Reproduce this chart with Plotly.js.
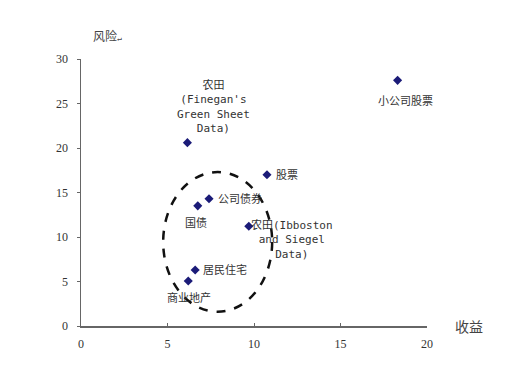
<!DOCTYPE html>
<html><head><meta charset="utf-8">
<script src="https://cdn.plot.ly/plotly-3.0.1.min.js"></script>
<style>html,body{margin:0;padding:0;background:#fff;}#chart{width:528px;height:390px;}</style>
</head><body><div id="chart"></div>
<script>
const names = ["农田<br>(Finegan's<br>Green Sheet<br>Data)", "小公司股票", "股票", "公司债券", "国债", "农田(Ibboston<br>and Siegel<br>Data)", "居民住宅", "商业地产"];
const returns = [6.15, 18.3, 10.75, 7.4, 6.75, 9.7, 6.6, 6.2];
const risks = [20.6, 27.6, 17.0, 14.3, 13.5, 11.2, 6.3, 5.05];
const xTicks = [0, 5, 10, 15, 20];
const yTicks = [0, 5, 10, 15, 20, 25, 30];
const ellipseX = [4.75, 11.05];
const ellipseY = [1.6, 17.3];

// label placement per point: [xanchor, yanchor, xshift, yshift, align]
const place = [
  ['center','bottom',26,6,'center'],
  ['center','middle',8,-21,'center'],
  ['left','middle',7,-1,'left'],
  ['left','middle',7,0,'left'],
  ['center','middle',-2,-17,'center'],
  ['center','top',43,10,'center'],
  ['left','middle',6,0,'left'],
  ['center','middle',1,-17,'center']
];

const cjk = '"Noto Sans CJK SC", "DejaVu Sans Mono", monospace';
const annotations = names.map((n,i)=>({
  x: returns[i], y: risks[i], xref:'x', yref:'y', text:n, showarrow:false,
  xanchor:place[i][0], yanchor:place[i][1], xshift:place[i][2], yshift:place[i][3],
  align:place[i][4],
  font:{family:'"DejaVu Sans Mono", "Noto Sans CJK SC", monospace', size:11, color:'#333'}
}));
annotations.push({xref:'paper', yref:'paper', x:0.028, y:1.087, xanchor:'left', yanchor:'middle', text:'风险<span style="font-size:8px">↵</span>', showarrow:false, font:{family:cjk, size:12, color:'#444'}});
annotations.push({xref:'paper', yref:'paper', x:1.075, y:0.0, xanchor:'left', yanchor:'middle', text:'收益', showarrow:false, font:{family:cjk, size:14, color:'#444'}});

const trace = {
  x: returns, y: risks, mode:'markers', type:'scatter',
  marker:{symbol:'diamond', size:7, color:'#1b1b78'}, hoverinfo:'skip'
};

const axisCommon = {
  showgrid:false, zeroline:false, showline:true, linecolor:'#666', linewidth:1.5,
  ticks:'outside', ticklen:3, tickwidth:1, tickcolor:'#666',
  tickfont:{family:'"Liberation Serif", serif', size:12, color:'#333'}
};

const layout = {
  width:528, height:390,
  margin:{l:81, r:101, t:59, b:64},
  paper_bgcolor:'#fff', plot_bgcolor:'#fff',
  showlegend:false,
  xaxis:Object.assign({}, axisCommon, {range:[0,20], tickvals:xTicks, ticks:'inside', ticklabelstandoff:6}),
  yaxis:Object.assign({}, axisCommon, {range:[0,30], tickvals:yTicks, ticklabelstandoff:6}),
  shapes:[{type:'circle', xref:'x', yref:'y', x0:ellipseX[0], x1:ellipseX[1], y0:ellipseY[0], y1:ellipseY[1],
    line:{color:'#111', width:2.5, dash:'dash'}}],
  annotations:annotations
};

Plotly.newPlot('chart', [trace], layout, {staticPlot:true, displayModeBar:false});
</script></body></html>
